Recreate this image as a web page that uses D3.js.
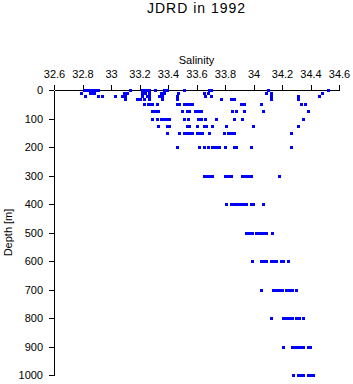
<!DOCTYPE html>
<html>
<head>
<meta charset="utf-8">
<script src="https://cdn.jsdelivr.net/npm/d3@7"></script>
<style>
  html, body { margin: 0; padding: 0; background: #fff; }
  svg { display: block; font-family: "Liberation Sans", Arial, sans-serif; }
  .axis text { font-size: 11px; fill: #000; }
  .axis path, .axis line { stroke: #000; shape-rendering: crispEdges; }
</style>
</head>
<body>
<div id="chart"></div>
<script>
// standard sampling depths (m)
const depths = [0, 10, 20, 30, 50, 75, 100, 125, 150, 200, 300, 400, 500, 600, 700, 800, 900, 1000];

// salinity readings at each depth, same order as depths
const salinity = [
  [32.81, 32.82, 32.83, 32.85, 32.87, 32.89, 32.91, 33.13, 33.22, 33.24, 33.26, 33.27, 33.31, 33.37, 33.39, 33.51, 33.69, 33.70, 34.10, 34.52],
  [32.79, 32.85, 32.87, 32.88, 33.09, 33.11, 33.22, 33.24, 33.27, 33.35, 33.37, 33.47, 33.65, 33.68, 34.09, 34.12, 34.48],
  [32.82, 32.91, 32.94, 33.03, 33.08, 33.10, 33.22, 33.25, 33.27, 33.34, 33.36, 33.46, 33.66, 33.70, 34.12, 34.31, 34.46],
  [33.10, 33.18, 33.20, 33.23, 33.27, 33.36, 33.46, 33.77, 33.84, 33.86, 34.12, 34.31],
  [33.23, 33.26, 33.27, 33.29, 33.32, 33.46, 33.48, 33.51, 33.53, 33.55, 33.57, 33.91, 33.93, 34.05, 34.33, 34.36],
  [33.29, 33.31, 33.33, 33.50, 33.53, 33.55, 33.59, 33.61, 33.63, 33.85, 33.88, 33.93, 34.07, 34.38],
  [33.29, 33.32, 33.35, 33.37, 33.39, 33.41, 33.51, 33.54, 33.61, 33.63, 33.66, 33.74, 33.86, 33.92, 34.35],
  [33.33, 33.39, 33.41, 33.53, 33.55, 33.60, 33.65, 33.67, 33.71, 33.81, 34.00, 34.31],
  [33.39, 33.48, 33.51, 33.53, 33.55, 33.57, 33.60, 33.62, 33.64, 33.69, 33.79, 33.82, 33.84, 33.86, 34.26],
  [33.46, 33.62, 33.65, 33.68, 33.71, 33.73, 33.75, 33.76, 33.80, 33.86, 33.88, 33.98, 34.26],
  [33.65, 33.67, 33.69, 33.71, 33.80, 33.82, 33.84, 33.92, 33.94, 33.96, 33.98, 34.18],
  [33.81, 33.84, 33.86, 33.88, 33.89, 33.91, 33.93, 33.95, 33.98, 34.00, 34.07],
  [33.95, 33.97, 33.99, 34.02, 34.03, 34.05, 34.07, 34.09, 34.13],
  [33.99, 34.05, 34.07, 34.09, 34.12, 34.14, 34.16, 34.19, 34.21, 34.24],
  [34.05, 34.14, 34.16, 34.18, 34.20, 34.23, 34.25, 34.27, 34.30],
  [34.12, 34.21, 34.23, 34.25, 34.27, 34.30, 34.32, 34.35],
  [34.21, 34.27, 34.29, 34.31, 34.33, 34.35, 34.38, 34.40],
  [34.28, 34.31, 34.33, 34.35, 34.38, 34.40, 34.42]
];

const salinityTicks = [32.6, 32.8, 33, 33.2, 33.4, 33.6, 33.8, 34, 34.2, 34.4, 34.6];
const depthTicks = [0, 100, 200, 300, 400, 500, 600, 700, 800, 900, 1000];

const W = 353, H = 384;
const margin = { top: 90, right: 14, bottom: 9, left: 54 };
const width = W - margin.left - margin.right;
const height = H - margin.top - margin.bottom;

// flatten to points
const points = [];
depths.forEach((d, i) => {
  salinity[i].forEach((s) => points.push({ depth: d, sal: s }));
});

const svg = d3.select("#chart").append("svg")
  .attr("width", W)
  .attr("height", H);

svg.append("text")
  .attr("x", margin.left + width / 2)
  .attr("y", 13)
  .attr("text-anchor", "middle")
  .style("font-size", "14px")
  .style("letter-spacing", "1px")
  .text("JDRD in 1992");

const g = svg.append("g")
  .attr("transform", `translate(${margin.left},${margin.top})`);

const x = d3.scaleLinear().domain([32.6, 34.6]).range([0, width]);
const y = d3.scaleLinear().domain([0, 1000]).range([0, height]);

g.append("g")
  .attr("class", "axis x-axis")
  .call(d3.axisTop(x)
    .tickValues(salinityTicks)
    .tickFormat((d) => String(+d.toFixed(1)))
    .tickSize(5)
    .tickSizeOuter(0)
    .tickPadding(7));

g.append("g")
  .attr("class", "axis y-axis")
  .call(d3.axisLeft(y)
    .tickValues(depthTicks)
    .tickFormat(d3.format("d"))
    .tickSize(5)
    .tickSizeOuter(0)
    .tickPadding(6));

g.selectAll(".axis text").attr("font-family", null);

g.append("text")
  .attr("x", width / 2)
  .attr("y", -26)
  .attr("text-anchor", "middle")
  .style("font-size", "11px")
  .text("Salinity");

svg.append("text")
  .attr("transform", `translate(12,${margin.top + height / 2}) rotate(-90)`)
  .attr("text-anchor", "middle")
  .style("font-size", "11px")
  .text("Depth [m]");

g.selectAll("rect.pt")
  .data(points)
  .join("rect")
  .attr("class", "pt")
  .attr("x", (d) => Math.round(x(d.sal)) - 1)
  .attr("y", (d) => Math.round(y(d.depth)) - 1)
  .attr("width", 3)
  .attr("height", 3)
  .attr("fill", "#0000ff")
  .attr("shape-rendering", "crispEdges");
</script>
</body>
</html>
